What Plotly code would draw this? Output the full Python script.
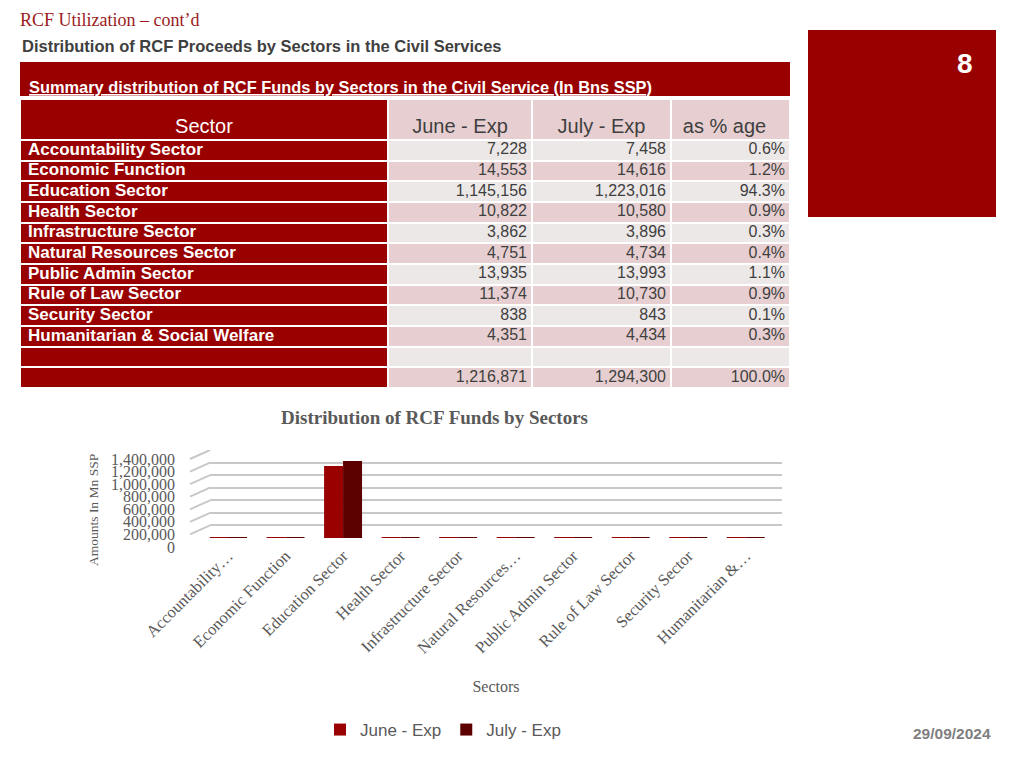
import plotly.graph_objects as go

# ---------------- data ----------------
sectors = ["Accountability Sector", "Economic Function", "Education Sector", "Health Sector",
           "Infrastructure Sector", "Natural Resources Sector", "Public Admin Sector",
           "Rule of Law Sector", "Security Sector", "Humanitarian & Social Welfare"]
axis_labels = ["Accountability…", "Economic Function", "Education Sector", "Health Sector",
               "Infrastructure Sector", "Natural Resources…", "Public Admin Sector",
               "Rule of Law Sector", "Security Sector", "Humanitarian &…"]
june_exp = [7228, 14553, 1145156, 10822, 3862, 4751, 13935, 11374, 838, 4351]
july_exp = [7458, 14616, 1223016, 10580, 3896, 4734, 13993, 10730, 843, 4434]
pct_age = ["0.6%", "1.2%", "94.3%", "0.9%", "0.3%", "0.4%", "1.1%", "0.9%", "0.1%", "0.3%"]
total_june = 1216871
total_july = 1294300
total_pct = "100.0%"
header_labels = ["Sector", "June - Exp", "July - Exp", "as % age"]
y_tick_vals = [0, 200000, 400000, 600000, 800000, 1000000, 1200000, 1400000]

# ---------------- styles / layout geometry ----------------
W, H = 1024, 768
OFF = 8  # page body margin: figure is drawn 8px from the window's corner
DARK = "#990000"
JULY_C = "#5C0000"
PINK = "#E7CFD1"
LIGHT = "#EDE8E8"
GRAY = "#595959"
TXT = "#3F3F3F"
GRID = "#C8C8C8"
SANS = "Liberation Sans, Arial, sans-serif"
SERIF = "Liberation Serif, Times New Roman, serif"


def px(x):
    return (x - OFF) / W


def py(y):
    return 1 - (y - OFF) / H


# table geometry (in screen-pixel units of the table axes)
T_LEFT, T_RIGHT = 20, 790
T_TOP, T_HEAD_BOT, T_BOT = 99, 140, 388
col_edges = [0, 368, 512, 651, 770]
n_rows = len(sectors) + 2
row_h = (T_BOT - T_HEAD_BOT) / n_rows
row_edges = [T_TOP, T_HEAD_BOT] + [T_HEAD_BOT + row_h * (i + 1) for i in range(n_rows)]
row_centers = [T_HEAD_BOT + row_h * (i + 0.5) for i in range(n_rows)]

fig = go.Figure()

# ---------------- table (heatmap cells + text) ----------------
z = [[0, 1, 1, 1]]
for i in range(n_rows):
    c = 2 if i % 2 == 0 else 1
    z.append([0, c, c, c])
fig.add_trace(go.Heatmap(
    z=z, x=col_edges, y=row_edges, xaxis="x2", yaxis="y2",
    colorscale=[[0, DARK], [0.5, PINK], [1, LIGHT]], zmin=0, zmax=2,
    showscale=False, xgap=2, ygap=2, hoverinfo="skip"))

col0 = ["<b>%s</b>" % s for s in sectors] + ["", ""]
col1 = [f"{v:,}" for v in june_exp] + ["", f"{total_june:,}"]
col2 = [f"{v:,}" for v in july_exp] + ["", f"{total_july:,}"]
col3 = list(pct_age) + ["", total_pct]

head_x = [(col_edges[i] + col_edges[i + 1]) / 2 for i in range(4)]
head_x[3] -= 6
fig.add_trace(go.Scatter(
    x=head_x, y=[T_HEAD_BOT - 12] * 4, mode="text", text=header_labels,
    textposition="middle center", xaxis="x2", yaxis="y2", showlegend=False,
    hoverinfo="skip",
    textfont=dict(family=SANS, size=20, color=["white", TXT, TXT, TXT])))
fig.add_trace(go.Scatter(
    x=[8] * n_rows, y=row_centers, mode="text", text=col0, textposition="middle right",
    xaxis="x2", yaxis="y2", showlegend=False, hoverinfo="skip",
    textfont=dict(family=SANS, size=17, color="white")))
for ci, vals in ((1, col1), (2, col2), (3, col3)):
    fig.add_trace(go.Scatter(
        x=[col_edges[ci + 1] - 5] * n_rows, y=row_centers, mode="text", text=vals,
        textposition="middle left", xaxis="x2", yaxis="y2", showlegend=False,
        hoverinfo="skip", textfont=dict(family=SANS, size=16, color=TXT)))

# ---------------- bar chart ----------------
fig.add_trace(go.Bar(x=sectors, y=june_exp, name="June - Exp", marker_color=DARK,
                     marker_line_width=0))
fig.add_trace(go.Bar(x=sectors, y=july_exp, name="July - Exp", marker_color=JULY_C,
                     marker_line_width=0))

fig.update_layout(
    width=W, height=H,
    margin=dict(l=0, r=0, t=0, b=0, pad=0, autoexpand=False),
    paper_bgcolor="white", plot_bgcolor="rgba(0,0,0,0)",
    barmode="group", bargap=0.34, bargroupgap=0.0,
    xaxis=dict(domain=[px(210), px(782)], range=[-0.313, 9.63],
               tickvals=sectors, ticktext=axis_labels,
               tickangle=-45, showgrid=False, showline=False, ticks="", automargin=False,
               tickfont=dict(family=SERIF, size=16.5, color=GRAY),
               ticklabelstandoff=4,
               title=dict(text="Sectors", font=dict(family=SERIF, size=16, color=GRAY),
                          standoff=24),
               fixedrange=True),
    yaxis=dict(domain=[py(538), py(450)], range=[0, 1400000], tickvals=y_tick_vals,
               tickformat=",d", showgrid=True, gridcolor=GRID, gridwidth=2,
               zeroline=False, showline=False, ticks="", automargin=False,
               tickfont=dict(family=SERIF, size=16, color=GRAY),
               ticklabelshift=9, ticklabelstandoff=34,
               fixedrange=True),
    xaxis2=dict(domain=[px(T_LEFT), px(T_RIGHT)], range=[0, T_RIGHT - T_LEFT],
                visible=False, fixedrange=True, automargin=False),
    yaxis2=dict(domain=[py(T_BOT), py(T_TOP)], range=[T_BOT, T_TOP],
                visible=False, fixedrange=True, automargin=False),
    legend=dict(orientation="h", x=px(320), y=py(712), xanchor="left", yanchor="top",
                font=dict(family=SANS, size=17, color=GRAY), bgcolor="rgba(0,0,0,0)",
                itemwidth=30, traceorder="normal"),
    showlegend=True,
)

# 3D-like perspective segments on the gridlines
for v in y_tick_vals:
    fig.add_shape(type="line", xref="x domain", yref="y",
                  xsizemode="pixel", xanchor=0, x0=-20, x1=0,
                  ysizemode="pixel", yanchor=v, y0=-9, y1=0,
                  line=dict(color=GRID, width=2))

# y-axis title (centred on the front face of the 3D axis)
fig.add_annotation(text="Amounts In Mn SSP", xref="paper", yref="paper", x=px(93),
                   y=py(510), textangle=-90, showarrow=False, xanchor="center",
                   yanchor="middle", font=dict(family=SERIF, size=13.5, color=GRAY))

# ---------------- slide decorations ----------------
fig.add_shape(type="rect", xref="paper", yref="paper", x0=px(808), x1=px(996),
              y0=py(217), y1=py(30), fillcolor=DARK, line_width=0, layer="below")
fig.add_annotation(text="<b>8</b>", xref="paper", yref="paper", x=px(965), y=py(64),
                   xanchor="center", yanchor="middle",
                   showarrow=False, font=dict(family=SANS, size=28, color="white"))
fig.add_shape(type="rect", xref="paper", yref="paper", x0=px(20), x1=px(790),
              y0=py(96), y1=py(62), fillcolor=DARK, line_width=0, layer="below")
fig.add_annotation(text="<u><b>Summary distribution of RCF Funds by Sectors in the Civil Service (In Bns SSP)</b></u>",
                   xref="paper", yref="paper", x=px(27), y=py(87), xanchor="left",
                   yanchor="middle", showarrow=False,
                   font=dict(family=SANS, size=16.4, color="white"))
fig.add_annotation(text="RCF Utilization – cont’d", xref="paper", yref="paper",
                   x=px(18), y=py(8), xanchor="left", yanchor="top", showarrow=False,
                   font=dict(family=SERIF, size=18, color="#9B1B1B"))
fig.add_annotation(text="<b>Distribution of RCF Proceeds by Sectors in the Civil Services</b>",
                   xref="paper", yref="paper", x=px(20), y=py(46), xanchor="left",
                   yanchor="middle", showarrow=False,
                   font=dict(family=SANS, size=16.5, color=TXT))
fig.add_annotation(text="<b>Distribution of RCF Funds by Sectors</b>", xref="paper",
                   yref="paper", x=px(434), y=py(417), xanchor="center", yanchor="middle",
                   showarrow=False, font=dict(family=SERIF, size=19, color=GRAY))
fig.add_annotation(text="<b>29/09/2024</b>", xref="paper", yref="paper", x=px(952),
                   y=py(733), xanchor="center", yanchor="middle", showarrow=False,
                   font=dict(family=SANS, size=15.5, color="#7F7F7F"))

fig.write_html("out.html")
